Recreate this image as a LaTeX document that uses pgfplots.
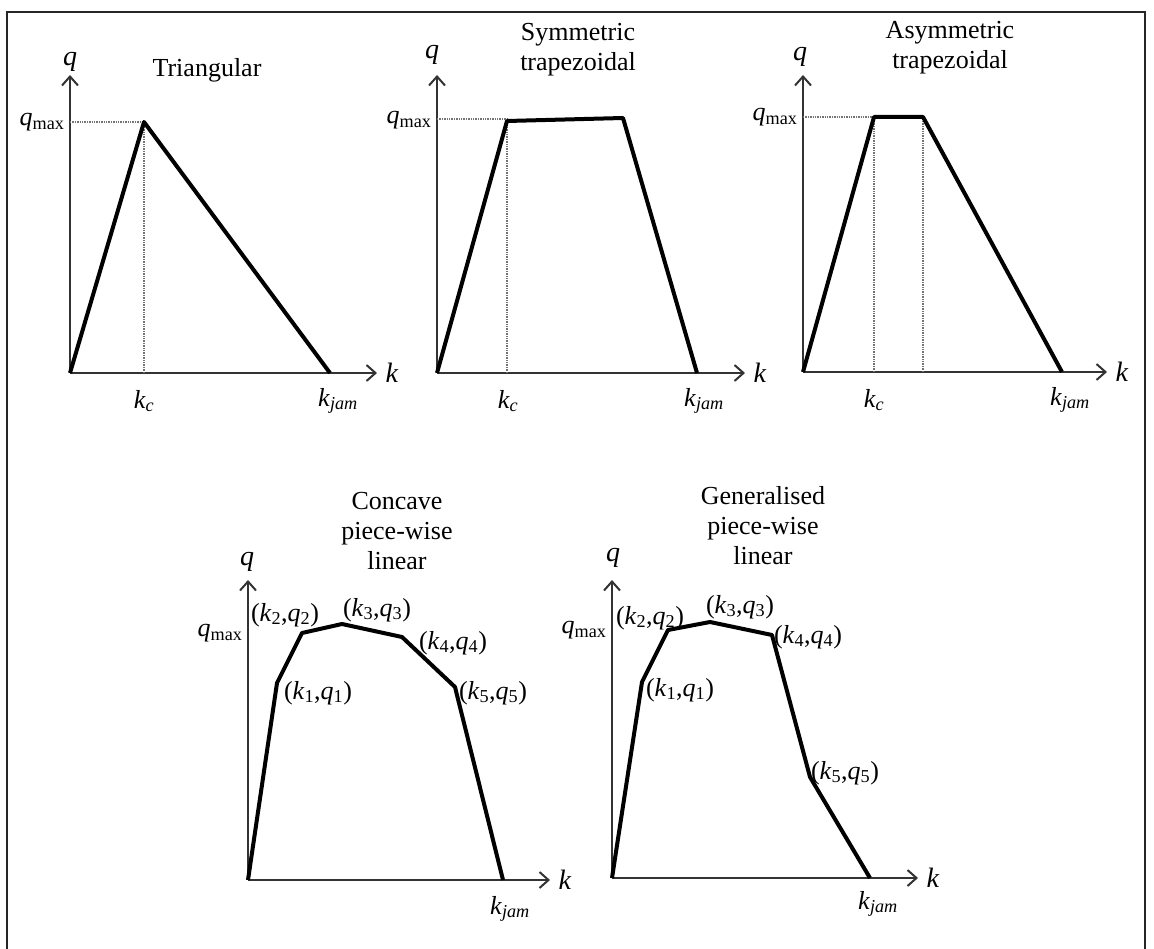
\documentclass[border=0pt]{standalone}
\usepackage{fontspec}
\setmainfont{Liberation Serif}
\usepackage{pgfplots}
\pgfplotsset{compat=1.18}
\usetikzlibrary{arrows.meta}

% symbols used in the labels
\newcommand\qmax{\textit{q}\textsubscript{max}}
\newcommand\kc{\textit{k}\textsubscript{\textit{c}}}
\newcommand\kjam{\textit{k}\textsubscript{\textit{jam}}}
\newcommand\kq[1]{(\textit{k}\textsubscript{#1},\textit{q}\textsubscript{#1})}

\pgfplotsset{
  fd/.style={
    scale only axis, anchor=south west, axis lines=left,
    xmin=0, ymin=0, enlargelimits=false, clip=false,
    xtick=\empty, ytick=\empty,
    axis line style={line width=2pt, black!80,
      -{Straight Barb[length=9pt,width=16pt,line width=2pt]}},
  },
  curve/.style={line width=4pt, black, no marks, line join=round},
  guide/.style={densely dotted, line width=1.4pt, black!55, no marks},
}

\begin{document}
\begin{tikzpicture}[x=1pt, y=-1pt, font=\fontsize{26}{30}\selectfont]
\useasboundingbox (0,0) rectangle (1154,949);
\draw[line width=2.6pt, black!85] (7,949) -- (7,12) -- (1145,12) -- (1145,949);

% ---- Triangular
\begin{axis}[fd, at={(70pt,-373pt)}, width=307pt, height=298pt, xmax=307, ymax=298]
  \addplot[guide] coordinates {(0,251) (74,251)};
  \addplot[guide] coordinates {(74,0) (74,251)};
  \addplot[curve] coordinates {(0,0) (74,251) (260,0)};
  \node at (0,311) {\fontsize{28}{30}\selectfont\textit{q}};
  \node at (137,303) {Triangular};
  \node[anchor=east] at (-2,251) {\qmax};
  \node at (74,-28) {\kc};
  \node at (268,-28) {\kjam};
  \node[anchor=west] at (312,0) {\fontsize{28}{30}\selectfont\textit{k}};
\end{axis}

% ---- Symmetric trapezoidal
\begin{axis}[fd, at={(437pt,-373pt)}, width=308pt, height=298pt, xmax=308, ymax=298]
  \addplot[guide] coordinates {(0,254) (70,254)};
  \addplot[guide] coordinates {(70,0) (70,252)};
  \addplot[curve] coordinates {(0,0) (70,252) (186,255) (260,0)};
  \node at (-5,318) {\fontsize{28}{30}\selectfont\textit{q}};
  \node[align=center] at (141,323) {Symmetric\\trapezoidal};
  \node[anchor=east] at (-2,253) {\qmax};
  \node at (71,-28) {\kc};
  \node at (267,-28) {\kjam};
  \node[anchor=west] at (313,0) {\fontsize{28}{30}\selectfont\textit{k}};
\end{axis}

% ---- Asymmetric trapezoidal
\begin{axis}[fd, at={(803pt,-372pt)}, width=304pt, height=297pt, xmax=304, ymax=297]
  \addplot[guide] coordinates {(0,255) (71,255)};
  \addplot[guide] coordinates {(71,0) (71,255)};
  \addplot[guide] coordinates {(120,0) (120,255)};
  \addplot[curve] coordinates {(0,0) (71,255) (120,255) (259,0)};
  \node at (-3,315) {\fontsize{28}{30}\selectfont\textit{q}};
  \node[align=center] at (147,324) {Asymmetric\\trapezoidal};
  \node[anchor=east] at (-2,255) {\qmax};
  \node at (71,-28) {\kc};
  \node at (267,-28) {\kjam};
  \node[anchor=west] at (309,0) {\fontsize{28}{30}\selectfont\textit{k}};
\end{axis}

% ---- Concave piece-wise linear
\begin{axis}[fd, at={(248pt,-880pt)}, width=302pt, height=300pt, xmax=302, ymax=300]
  \addplot[curve] coordinates {(0,0) (29,197) (54,247) (94,256) (154,243) (207,193) (255,0)};
  \node at (-1,318) {\fontsize{28}{30}\selectfont\textit{q}};
  \node[align=center] at (149,349) {Concave\\piece-wise\\linear};
  \node[anchor=east] at (-2,247) {\qmax};
  \node at (37,265) {\kq{2}};
  \node at (129,270) {\kq{3}};
  \node at (205,237) {\kq{4}};
  \node at (70,187) {\kq{1}};
  \node at (245,187) {\kq{5}};
  \node at (262,-29) {\kjam};
  \node[anchor=west] at (307,0) {\fontsize{28}{30}\selectfont\textit{k}};
\end{axis}

% ---- Generalised piece-wise linear
\begin{axis}[fd, at={(612pt,-878pt)}, width=306pt, height=298pt, xmax=306, ymax=298]
  \addplot[curve] coordinates {(0,0) (30,196) (56,248) (98,256) (160,243) (198,101) (258,0)};
  \node at (1,320) {\fontsize{28}{30}\selectfont\textit{q}};
  \node[align=center] at (151,352) {Generalised\\piece-wise\\linear};
  \node[anchor=east] at (-2,248) {\qmax};
  \node at (38,260) {\kq{2}};
  \node at (128,271) {\kq{3}};
  \node at (196,241) {\kq{4}};
  \node at (68,188) {\kq{1}};
  \node at (233,105) {\kq{5}};
  \node at (266,-26) {\kjam};
  \node[anchor=west] at (311,0) {\fontsize{28}{30}\selectfont\textit{k}};
\end{axis}
\end{tikzpicture}
\end{document}
